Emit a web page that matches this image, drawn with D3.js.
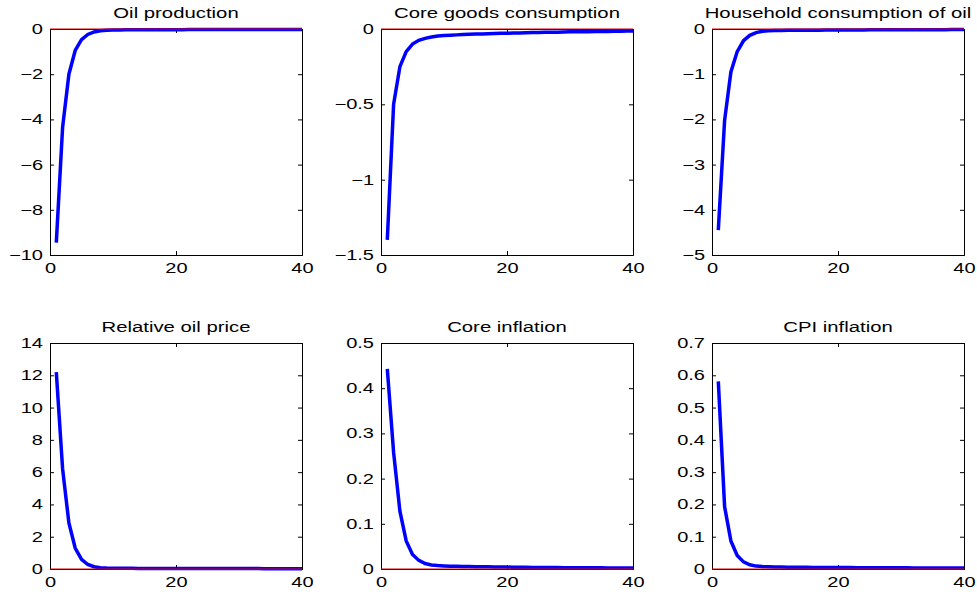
<!DOCTYPE html>
<html>
<head>
<meta charset="utf-8">
<script src="https://cdn.jsdelivr.net/npm/d3@7"></script>
<style>
  html, body { margin: 0; padding: 0; background: #fff; }
  svg { display: block; font-family: "Liberation Sans", Arial, Helvetica, sans-serif; }
</style>
</head>
<body>
<svg id="chart"></svg>
<script>
// impulse responses, periods 1..40
const periods = d3.range(1, 41);

const oilProduction = [-9.45, -4.35, -2.0, -0.95, -0.47, -0.24, -0.13, -0.08, -0.055, -0.045,
  -0.04, -0.038, -0.036, -0.035, -0.034, -0.033, -0.032, -0.031, -0.030, -0.029,
  -0.028, -0.027, -0.027, -0.026, -0.025, -0.025, -0.024, -0.023, -0.023, -0.022,
  -0.022, -0.021, -0.021, -0.020, -0.020, -0.019, -0.019, -0.018, -0.018, -0.018];

const coreGoods = [-1.40, -0.50, -0.25, -0.15, -0.10, -0.075, -0.062, -0.053, -0.047, -0.043,
  -0.041, -0.039, -0.037, -0.035, -0.034, -0.033, -0.031, -0.030, -0.029, -0.028,
  -0.027, -0.026, -0.025, -0.024, -0.023, -0.022, -0.022, -0.021, -0.020, -0.019,
  -0.019, -0.018, -0.018, -0.017, -0.016, -0.016, -0.015, -0.015, -0.014, -0.014];

const householdOil = [-4.45, -2.02, -0.95, -0.50, -0.26, -0.14, -0.08, -0.05, -0.04, -0.035,
  -0.032, -0.030, -0.029, -0.028, -0.027, -0.026, -0.025, -0.024, -0.023, -0.022,
  -0.022, -0.021, -0.020, -0.020, -0.019, -0.019, -0.018, -0.018, -0.017, -0.017,
  -0.016, -0.016, -0.015, -0.015, -0.015, -0.014, -0.014, -0.013, -0.013, -0.013];

const oilPrice = [12.2, 6.2, 2.85, 1.3, 0.6, 0.28, 0.14, 0.08, 0.06, 0.05,
  0.045, 0.042, 0.04, 0.038, 0.037, 0.036, 0.035, 0.034, 0.033, 0.032,
  0.031, 0.030, 0.030, 0.029, 0.028, 0.028, 0.027, 0.026, 0.026, 0.025,
  0.025, 0.024, 0.024, 0.023, 0.023, 0.022, 0.022, 0.021, 0.021, 0.020];

const coreInflation = [0.443, 0.258, 0.128, 0.062, 0.032, 0.019, 0.012, 0.009, 0.0075, 0.0068,
  0.0063, 0.006, 0.0057, 0.0054, 0.0052, 0.005, 0.0048, 0.0046, 0.0044, 0.0042,
  0.004, 0.0038, 0.0037, 0.0035, 0.0034, 0.0033, 0.0032, 0.0031, 0.003, 0.0029,
  0.0028, 0.0027, 0.0026, 0.0025, 0.0025, 0.0024, 0.0023, 0.0022, 0.0022, 0.0021];

const cpiInflation = [0.581, 0.193, 0.087, 0.042, 0.022, 0.013, 0.009, 0.0075, 0.0068, 0.0063,
  0.006, 0.0058, 0.0056, 0.0054, 0.0052, 0.005, 0.0049, 0.0048, 0.0046, 0.0045,
  0.0044, 0.0043, 0.0042, 0.0041, 0.004, 0.0039, 0.0038, 0.0037, 0.0036, 0.0035,
  0.0035, 0.0034, 0.0033, 0.0032, 0.0032, 0.0031, 0.003, 0.003, 0.0029, 0.0028];

const titles = ["Oil production", "Core goods consumption", "Household consumption of oil",
  "Relative oil price", "Core inflation", "CPI inflation"];
const series = [oilProduction, coreGoods, householdOil, oilPrice, coreInflation, cpiInflation];
const yDomains = [[-10, 0], [-1.5, 0], [-5, 0], [0, 14], [0, 0.5], [0, 0.7]];
const yTicks = [
  [-10, -8, -6, -4, -2, 0],
  [-1.5, -1, -0.5, 0],
  [-5, -4, -3, -2, -1, 0],
  [0, 2, 4, 6, 8, 10, 12, 14],
  [0, 0.1, 0.2, 0.3, 0.4, 0.5],
  [0, 0.1, 0.2, 0.3, 0.4, 0.5, 0.6, 0.7]
];
const xTicks = [0, 20, 40];

const width = 977;
const height = 594;
const colLeft = [50, 381, 712];
const rowTop = [29, 343];
const pw = 252;
const ph = 226;
const stretch = 1.43;      // tick labels are wide in the original
const titleStretch = 1.355;

const svg = d3.select("#chart")
  .attr("width", width)
  .attr("height", height);

svg.append("rect").attr("width", width).attr("height", height).attr("fill", "#fff");

const fmt = d3.format("~g");

series.forEach((vals, i) => {
  const g = svg.append("g")
    .attr("transform", `translate(${colLeft[i % 3]},${rowTop[Math.floor(i / 3)]})`);

  const x = d3.scaleLinear().domain([0, 40]).range([0, pw]);
  const y = d3.scaleLinear().domain(yDomains[i]).range([ph, 0]);

  // left axis with labels, ticks pointing inward
  const left = g.append("g")
    .call(d3.axisLeft(y).tickValues(yTicks[i]).tickSize(-4).tickPadding(7).tickFormat(fmt));
  left.selectAll("text")
    .attr("x", -7 / stretch)
    .attr("transform", `scale(${stretch},1)`);

  const right = g.append("g")
    .attr("transform", `translate(${pw},0)`)
    .call(d3.axisRight(y).tickValues(yTicks[i]).tickSize(-4).tickFormat(""));

  const bottom = g.append("g")
    .attr("transform", `translate(0,${ph})`)
    .call(d3.axisBottom(x).tickValues(xTicks).tickSize(-4).tickPadding(8).tickFormat(fmt));
  bottom.selectAll("text")
    .attr("transform", `scale(${stretch},1)`);

  const top = g.append("g")
    .call(d3.axisTop(x).tickValues(xTicks).tickSize(-4).tickFormat(""));

  [left, right, bottom, top].forEach(a => {
    a.selectAll(".domain").attr("stroke", "#000").attr("stroke-width", 1);
    a.selectAll(".tick line").attr("stroke", "#000");
    a.selectAll("text").attr("font-size", 14).attr("fill", "#000")
      .attr("font-family", "'Liberation Sans', Arial, Helvetica, sans-serif");
  });

  const line = d3.line()
    .x((d, j) => x(periods[j]))
    .y(d => y(d));

  g.append("path")
    .datum(vals)
    .attr("fill", "none")
    .attr("stroke", "#0000ff")
    .attr("stroke-width", 3.5)
    .attr("d", line);

  // zero line
  g.append("line")
    .attr("x1", x(0)).attr("x2", x(40))
    .attr("y1", y(0)).attr("y2", y(0))
    .attr("stroke", "#e00000")
    .attr("stroke-width", 1.2);

  g.append("text")
    .attr("transform", `translate(${pw / 2},-11) scale(${titleStretch},1)`)
    .attr("text-anchor", "middle")
    .attr("font-size", 15)
    .attr("fill", "#000")
    .text(titles[i]);
});
</script>
</body>
</html>
